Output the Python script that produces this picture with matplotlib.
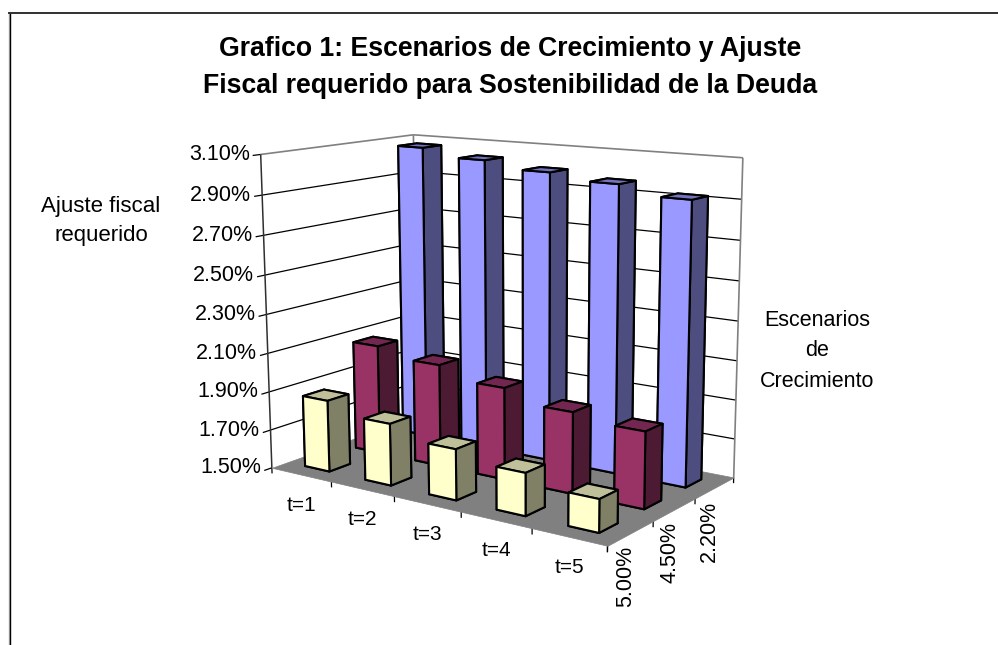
import numpy as np
import matplotlib
matplotlib.use("Agg")
import matplotlib.pyplot as plt
from mpl_toolkits.mplot3d import proj3d
from mpl_toolkits.mplot3d.art3d import Poly3DCollection, Line3DCollection

# ---- data ----
periods = ["t=1", "t=2", "t=3", "t=4", "t=5"]
scenarios = ["5.00%", "4.50%", "2.20%"]           # front to back
ajuste_500 = [1.87, 1.815, 1.755, 1.71, 1.66]
ajuste_450 = [2.075, 2.03, 1.97, 1.91, 1.88]
ajuste_220 = [3.07, 3.03, 2.995, 2.965, 2.92]
z_ticks = [1.5, 1.7, 1.9, 2.1, 2.3, 2.5, 2.7, 2.9, 3.1]

series = [ajuste_500, ajuste_450, ajuste_220]
face_colors = [
    ("#FFFFCC", "#808066", "#BFBF99"),
    ("#993366", "#4D1A33", "#732650"),
    ("#9999FF", "#4D4D80", "#7373BF"),
]
Z0, Z1 = z_ticks[0], z_ticks[-1]
NX, NY = len(periods), len(scenarios)

plt.rcParams["font.family"] = ["Liberation Sans", "DejaVu Sans"]
fig = plt.figure(figsize=(9.98, 6.45), dpi=100, facecolor="white")

# chart border (only left and top are inside the picture)
fig.add_artist(plt.Line2D([8.5 / 998] * 2, [0, 1 - 13.5 / 645], color="#b0b0b0", lw=1.0))
fig.add_artist(plt.Line2D([9.5 / 998] * 2, [0, 1 - 13 / 645], color="black", lw=1.0))
fig.add_artist(plt.Line2D([9 / 998, 1], [1 - 13 / 645] * 2, color="#303030", lw=1.4))

# ---- oblique projection of the Excel style 3-D box, fitted on its corners ----
world = np.array([[0, 0, Z0], [NX, 0, Z0], [NX, NY, Z0],
                  [0, 0, Z1], [0, NY, Z1], [NX, NY, Z1]], float)
pixel = np.array([[272, 468], [607, 546], [734, 477],
                  [261, 154], [413, 135], [743, 158]], float)
rows = []
for (X, Y, Z), (u, v) in zip(world, pixel):
    rows.append([X, Y, Z, 1, 0, 0, 0, 0, -u * X, -u * Y, -u * Z, -u])
    rows.append([0, 0, 0, 0, X, Y, Z, 1, -v * X, -v * Y, -v * Z, -v])
h = np.linalg.svd(np.array(rows))[2][-1]
P = h.reshape(3, 4)
if (P[2] @ np.array([2.5, 1.5, 2.3, 1])) < 0:
    P = -P
depth = np.array([-0.4, 1.0, -0.3, 0.0]) * (P[2] @ np.array([2.5, 1.5, 2.3, 1]))
M = np.vstack([P[0], P[1], depth, P[2]])

ax = fig.add_axes([0, 0, 1, 1], projection="3d", computed_zorder=False)
ax.apply_aspect = lambda position=None: None
ax.get_proj = lambda: M
ax.viewLim.intervalx = (0, 998)
ax.viewLim.intervaly = (645, 0)
ax.set_axis_off()
ax.patch.set_alpha(0)
ax.set_xlim(0, NX); ax.set_ylim(0, NY); ax.set_zlim(Z0, Z1)


def px(x, y, z):
    u, v, _ = proj3d.proj_transform(x, y, z, M)
    return float(u), float(v)


def lines(segments, color, lw, zorder):
    ax.add_collection3d(Line3DCollection(segments, colors=color, linewidths=lw, zorder=zorder))


# gridlines and ticks
grid = []
for z in z_ticks[1:-1]:
    grid += [[(0, 0, z), (0, NY, z)], [(0, NY, z), (NX, NY, z)]]
for z in z_ticks:
    grid.append([(0, 0, z), (0, -0.14, z)])
for i in range(NX + 1):
    grid.append([(i, 0, Z0), (i, 0, Z0 - 0.03)])
for j in range(NY + 1):
    grid.append([(NX, j, Z0), (NX, j, Z0 - 0.03)])
lines(grid, "black", 0.9, 1)
# walls
lines([[(0, 0, Z1), (0, NY, Z1)], [(0, NY, Z1), (NX, NY, Z1)], [(NX, NY, Z1), (NX, NY, Z0)],
       [(0, NY, Z0), (0, NY, Z1)]], "#808080", 1.2, 2)
lines([[(0, 0, Z0), (0, 0, Z1)]], "#303030", 1.1, 2)
# floor
floor = Poly3DCollection([[(0, 0, Z0), (NX, 0, Z0), (NX, NY, Z0), (0, NY, Z0)]],
                         facecolor="#808080", edgecolor="#808080", linewidth=0.5, zorder=3)
ax.add_collection3d(floor)

# bars, from the back row to the front row, left to right
bar_w, bar_d = 0.41, 0.40
for j in reversed(range(NY)):
    front, side, top = face_colors[j]
    for i in range(NX):
        #        bottom top  -y     +y     -x    +x
        colors = [side, top, front, front, side, side]
        ax.bar3d(i + 0.5 - bar_w / 2, j + 0.5 - bar_d / 2, Z0,
                 bar_w, bar_d, series[j][i] - Z0,
                 color=colors, shade=False, edgecolor="black", linewidth=1.5,
                 zorder=10 + 10 * (NY - j) + i)

# tick labels
for z in z_ticks:
    u, v = px(0, 0, z)
    ax.text2D(u - 11, v, f"{z:.2f}%", ha="right", va="center", fontsize=15.5,
              transform=ax.transData, zorder=100)
for i, lab in enumerate(periods):
    u, v = px(i + 0.5, 0, Z0)
    ax.text2D(u, v + 31, lab, ha="center", va="center", fontsize=15,
              transform=ax.transData, zorder=100)
for j, lab in enumerate(scenarios):
    u, v = px(NX, j + 0.5, Z0)
    ax.text2D(u - 5, v + 13, lab, rotation=90, ha="center", va="top", fontsize=15.5,
              transform=ax.transData, zorder=100)

# axis titles and title
fig.text(101 / 998, 1 - 221 / 645, "Ajuste fiscal\nrequerido", ha="center", va="center",
         fontsize=16, linespacing=1.55)
fig.text(817 / 998, 1 - 351 / 645, "Escenarios\nde\nCrecimiento", ha="center", va="center",
         fontsize=15.5, linespacing=1.6)
fig.text(510 / 998, 1 - 67.5 / 645,
         "Grafico 1: Escenarios de Crecimiento y Ajuste\nFiscal requerido para Sostenibilidad de la Deuda",
         ha="center", va="center", fontsize=19.2, fontweight="bold", linespacing=1.56)

fig.savefig("out.png", dpi=100, facecolor="white")
